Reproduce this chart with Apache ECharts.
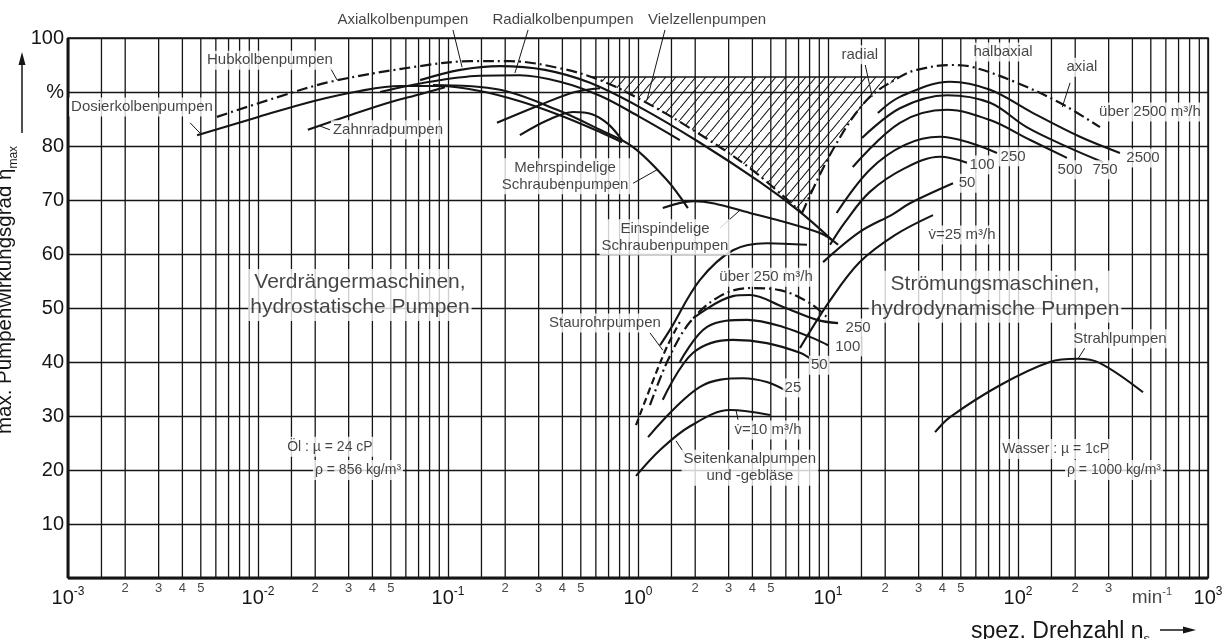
<!DOCTYPE html>
<html><head><meta charset="utf-8">
<script src="https://cdn.jsdelivr.net/npm/echarts@6/dist/echarts.min.js"></script>
<style>html,body{margin:0;padding:0;background:#fff}#c{width:1231px;height:639px}</style>
</head><body><div id="c"></div>
<script>
// ---------- axis ticks ----------
const decadeExps = [-3, -2, -1, 0, 1, 2, 3];
const minorMantissas = [1.5, 2, 3, 4, 5, 6, 7, 8, 9];
const minorLabelValues = [[0.002,'2'],[0.003,'3'],[0.004,'4'],[0.005,'5'],[0.02,'2'],[0.03,'3'],[0.04,'4'],[0.05,'5'],
  [0.2,'2'],[0.3,'3'],[0.4,'4'],[0.5,'5'],[2,'2'],[3,'3'],[4,'4'],[5,'5'],[20,'2'],[30,'3'],[40,'4'],[50,'5'],[200,'2'],[300,'3']];
const unitLabel = [[507, 0, 'min']];
// ---------- curves (x = spez. Drehzahl, y = eta_max %) ----------
const hubkolben = [[0.00608,85.4],[0.0123,88.9],[0.0248,92],[0.0713,94.8],[0.131,95.7],[0.212,95.7],[0.388,94.4],[0.631,92.2],[1.02,88.7],[1.88,83.3],[3.88,75.9],[7.3,67.6]];
const stroemEnvelope = [[7.3,67.6],[10.6,79.3],[16.0,88.5],[23.9,92.8],[29.4,94.1],[43.9,95.0],[58.0,94.6],[98.8,91.7],[166,88.0],[270,83.5]];
const hatchArea = [[0.56,92.8],[0.631,92.2],[1.02,88.7],[1.88,83.3],[3.88,75.9],[7.3,67.6],[10.6,79.3],[16.0,88.5],[23.9,92.8]];
const hatchTop = [[0.56,92.8],[23.9,92.8]];
const dosierkolben = [[0.00478,82.0],[0.00964,85.2],[0.0195,88.3],[0.0344,90.2],[0.0559,91.1],[0.0908,91.1],[0.147,90.2],[0.239,88.3],[0.388,85.7],[0.631,82.6],[0.824,80.7]];
const zahnrad = [[0.0183,83.0],[0.0305,85.7],[0.0495,88.1],[0.0713,89.6],[0.0964,90.9]];
const axialkolben = [[0.0713,92.2],[0.116,94.1],[0.188,94.8],[0.324,94.1],[0.559,91.7],[1.02,87.2],[2.12,80.6],[4.39,73.3],[7.12,67.8],[10.5,62.6]];
const radialkolben = [[0.0439,90.0],[0.0804,91.9],[0.147,93.0],[0.239,93.1],[0.388,91.9],[0.631,89.3],[1.02,85.4],[1.66,81.1]];
const vielzellen = [[0.181,84.3],[0.305,87.6],[0.466,90.0],[0.631,90.7]];
const zahnradHump = [[0.239,82.0],[0.336,84.8],[0.455,86.3],[0.573,85.9],[0.695,84.1],[0.824,81.1]];
const mehrspindelig = [[0.0834,91.3],[0.188,90.4],[0.375,86.7],[0.631,83.0],[0.942,79.8],[1.42,73.7],[1.83,68.5]];
const einspindelig = [[1.35,68.5],[1.95,69.8],[3.88,67.6],[9.08,63.9],[11.3,61.7]];
const lowTop = [[1.306,43.1],[1.47,45.9],[2.12,55.2],[3.16,60.7],[4.77,62.0],[7.75,61.7]];
const staurohr = [[0.976,28.3],[1.186,36.1],[1.42,42.8],[1.66,47.4]];
const ueber250 = [[1.156,32.0],[1.44,40.4],[1.878,47.4],[2.70,52.2],[3.88,53.7],[5.59,53.3],[8.04,50.9],[10.0,48.1]];
const low250 = [[1.95,48.1],[3.16,52.2],[3.88,52.4],[5.80,50.2],[8.75,47.8],[11.3,47.2]];
const low100 = [[1.66,40.0],[2.31,46.5],[3.75,47.8],[5.80,46.5],[8.75,44.1],[10.0,43.1]];
const low50 = [[1.35,33.0],[1.95,41.7],[3.16,44.1],[4.77,43.5],[7.12,41.7],[8.24,40.4]];
const low25 = [[1.13,26.1],[2.12,35.4],[3.57,37.0],[4.77,36.3],[5.94,34.8]];
const low10 = [[0.976,18.9],[1.306,23.7],[1.878,28.1],[3.05,31.1],[4.95,30.2]];
const r2500 = [[18.3,86.1],[23.9,89.1],[43.9,91.9],[71.3,90.4],[120,86.1],[212,81.7],[344,78.7]];
const r750 = [[15.1,81.5],[23.9,87.0],[42.3,89.4],[71.3,88.0],[111,83.5],[188,79.6],[280,77.0]];
const r500 = [[13.5,76.1],[23.9,84.3],[42.3,86.7],[71.3,84.8],[116,81.1],[181,77.8]];
const r250 = [[11.1,67.6],[16.6,75.6],[25.4,80.2],[38.8,81.7],[55.8,80.6],[77.5,78.7]];
const r100 = [[10.25,61.7],[12.3,65.9],[16.6,71.5],[25.4,75.9],[38.8,78.0],[53.9,76.9]];
const r50 = [[9.42,58.5],[14.7,64.1],[22.0,67.4],[27.0,69.4],[45.5,73.1]];
const r25 = [[7.12,42.6],[10.3,51.5],[14.7,58.5],[22.5,63.5],[35.7,67.2]];
const strahl = [[36.6,27.0],[43.9,29.8],[80.4,35.7],[147,40.0],[205,40.6],[270,39.8],[455,34.4]];
// ---------- leader lines ----------
const leaders = [
  [[0.1062,101.5],[0.1186,94.6]], [[0.264,101.5],[0.225,93.5]], [[1.387,101.5],[1.115,88.5]],
  [[0.0239,94.6],[0.0261,92.2]], [[0.00439,84.3],[0.00495,82.4]], [[0.0239,83.0],[0.0212,83.7]],
  [[0.942,73.1],[1.26,75.6]], [[2.70,64.8],[3.44,68.1]], [[1.156,45.4],[1.35,42.2]],
  [[15.7,95.0],[17.1,89.1]], [[188,91.7],[171,87.2]], [[1.79,22.6],[1.585,25.4]],
  [[3.36,29.3],[3.28,31.1]], [[225,42.6],[207,40.6]]
];
// ---------- annotations ----------
const labelsMedium = [
  [0.0579,103.3,'Axialkolbenpumpen'],[0.403,103.3,'Radialkolbenpumpen'],[2.31,103.3,'Vielzellenpumpen'],
  [0.01156,95.9,'Hubkolbenpumpen'],[0.00245,87.2,'Dosierkolbenpumpen'],[0.0483,83.0,'Zahnradpumpen'],
  [0.413,74.4,'Mehrspindelige\nSchraubenpumpen'],[1.387,63.1,'Einspindelige\nSchraubenpumpen'],
  [14.7,96.9,'radial'],[83.4,97.4,'halbaxial'],[217,94.6,'axial'],[495,86.3,'über 2500 m³/h'],
  [455,77.8,'2500'],[287,75.6,'750'],[188,75.6,'500'],[94.2,78.0,'250'],[64.7,76.5,'100'],[53.9,73.1,'50'],
  [50.7,63.5,'v\u0307=25 m³/h'],[4.72,55.7,'über 250 m³/h'],[0.670,47.2,'Staurohrpumpen'],
  [14.4,46.3,'250'],[12.7,42.8,'100'],[9.0,39.4,'50'],[6.54,35.2,'25'],[4.83,27.4,'v\u0307=10 m³/h'],
  [3.88,20.4,'Seitenkanalpumpen\nund -gebläse'],[344,44.3,'Strahlpumpen']
];
const labelsSmall = [
  [0.0239,24.3,'Öl : µ = 24 cP'],[0.0336,20.0,'ρ = 856 kg/m³'],
  [158,23.9,'Wasser : µ = 1cP'],[320,20.0,'ρ = 1000 kg/m³']
];
const labelsBig = [
  [0.0344,52.4,'Verdrängermaschinen,\nhydrostatische Pumpen'],
  [75.7,52.1,'Strömungsmaschinen,\nhydrodynamische Pumpen']
];
const frameLeft = [[0.001,0],[0.001,100]];
const frameBottom = [[0.001,0],[1000,0]];

const FONT = 'Liberation Sans, Arial, sans-serif';
const INK = '#151515';

const hatchCanvas = document.createElement('canvas');
hatchCanvas.width = 10; hatchCanvas.height = 12;
(function(){const g = hatchCanvas.getContext('2d'); g.strokeStyle = INK; g.lineWidth = 1.1;
  g.beginPath(); g.moveTo(-1, 13.2); g.lineTo(11, -1.2); g.stroke();})();

const curve = (data, extra) => ({type:'line', data, smooth:0.35, showSymbol:false, symbol:'none', silent:true,
  animation:false, z:4, lineStyle:Object.assign({color:INK, width:2.1}, extra || {})});
const straight = (data, width, z) => ({type:'line', data, smooth:false, showSymbol:false, symbol:'none', silent:true,
  animation:false, clip:false, z, lineStyle:{color:INK, width}});
const dashDot = {type:[11,4,2,4], width:2.2};
const textSeries = (items, fontSize, lh) => ({type:'scatter', data: items.map(it => ({value:[it[0], it[1]], name:it[2]})),
  symbolSize:0, clip:false, silent:true, animation:false, z:8,
  label:{show:true, position:'inside', formatter: p => p.name, color:INK, fontFamily:FONT, fontSize,
    lineHeight: lh, align:'center', backgroundColor:'#fff', padding:[1,2]}});

const minorGrid = [];
decadeExps.slice(0, -1).forEach(e => minorMantissas.forEach(m => minorGrid.push(m * Math.pow(10, e))));

const series = [
  ...minorGrid.map(v => straight([[v, 0], [v, 100]], 1.3, 1)),
  straight(frameLeft, 3, 3), straight(frameBottom, 3, 3),
  {type:'custom', silent:true, z:2, animation:false, data:[hatchArea[0]],
    renderItem:(params, api) => ({type:'polygon', shape:{points: hatchArea.map(p => api.coord(p))},
      style:{fill:{image:hatchCanvas, repeat:'repeat'}, stroke:null}})},
  curve(hatchTop, {width:1.5}),
  curve(hubkolben, dashDot), curve(stroemEnvelope, dashDot),
  curve(dosierkolben), curve(zahnrad), curve(axialkolben), curve(radialkolben), curve(vielzellen), curve(zahnradHump),
  curve(mehrspindelig), curve(einspindelig), curve(lowTop), curve(staurohr, {type:[7,4], width:2.2}), curve(ueber250, dashDot),
  curve(low250), curve(low100), curve(low50), curve(low25), curve(low10),
  curve(r2500), curve(r750), curve(r500), curve(r250), curve(r100), curve(r50), curve(r25), curve(strahl),
  ...leaders.map(s => straight(s, 1, 5)),
  textSeries(labelsMedium, 15, 17),
  textSeries(labelsSmall, 14, 18),
  textSeries(labelsBig, 21, 25),
  {type:'scatter', data: minorLabelValues.map(v => ({value:[v[0], 0], name:v[1]})), symbolSize:0, clip:false, silent:true, z:8,
    label:{show:true, position:'bottom', distance:4, formatter:p => p.name, color:INK, fontFamily:FONT, fontSize:13}},
  {type:'scatter', data: unitLabel.map(v => ({value:[v[0], v[1]], name:v[2]})), symbolSize:0, clip:false, silent:true, z:8,
    label:{show:true, position:'bottom', distance:8, formatter:p => '{b|' + p.name + '}{e|-1}', color:INK, fontFamily:FONT,
      rich:{b:{fontSize:19, fontFamily:FONT, color:INK, lineHeight:24}, e:{fontSize:11, fontFamily:FONT, color:INK, verticalAlign:'top', lineHeight:24}}}}
];

const chart = echarts.init(document.getElementById('c'));
chart.setOption({
  animation:false,
  backgroundColor:'#fff',
  grid:{left:68, right:23, top:38, bottom:61, show:true, borderColor:INK, borderWidth:1.5, containLabel:false, outerBoundsMode:'none'},
  xAxis:{type:'log', logBase:10, min:0.001, max:1000, interval:1,
    axisLine:{show:false, onZero:false}, axisTick:{show:false},
    splitLine:{show:true, lineStyle:{color:INK, width:1.3}},
    axisLabel:{show:true, margin:8, showMinLabel:true, showMaxLabel:true,
      formatter: v => '{b|10}{e|' + Math.round(Math.log10(v)) + '}',
      rich:{b:{fontSize:20, fontFamily:FONT, color:INK, lineHeight:24}, e:{fontSize:12, fontFamily:FONT, color:INK, verticalAlign:'top', lineHeight:24}}},
    name:'{a|spez. Drehzahl n}{s|s}', nameLocation:'end', nameGap:-58,
    nameTextStyle:{align:'right', verticalAlign:'top', padding:[39,0,0,0],
      rich:{a:{fontSize:23, fontFamily:FONT, color:INK, lineHeight:26}, s:{fontSize:13, fontFamily:FONT, color:INK, verticalAlign:'bottom', lineHeight:29}}}},
  yAxis:{type:'value', min:0, max:100, interval:10,
    axisLine:{show:false, onZero:false}, axisTick:{show:false},
    splitLine:{show:true, lineStyle:{color:INK, width:1.3}},
    axisLabel:{margin:4, fontSize:20, fontFamily:FONT, color:INK, formatter: v => v === 0 ? '' : (v === 90 ? '%' : String(v))},
    name:'{a|max. Pumpenwirkungsgrad η}{s|max}', nameLocation:'middle', nameRotate:90, nameGap:44,
    nameTextStyle:{padding:[0,0,0,36], rich:{a:{fontSize:20.5, fontFamily:FONT, color:INK, lineHeight:28},
      s:{fontSize:12, fontFamily:FONT, color:INK, verticalAlign:'bottom', lineHeight:28}}}},
  graphic:[
    {type:'line', shape:{x1:22, y1:133, x2:22, y2:62}, style:{stroke:INK, lineWidth:1.5}},
    {type:'polygon', shape:{points:[[22,52],[18.5,65],[25.5,65]]}, style:{fill:INK}},
    {type:'line', shape:{x1:1160, y1:630, x2:1186, y2:630}, style:{stroke:INK, lineWidth:1.5}},
    {type:'polygon', shape:{points:[[1196,630],[1183,626.5],[1183,633.5]]}, style:{fill:INK}}
  ],
  series
});
</script></body></html>
